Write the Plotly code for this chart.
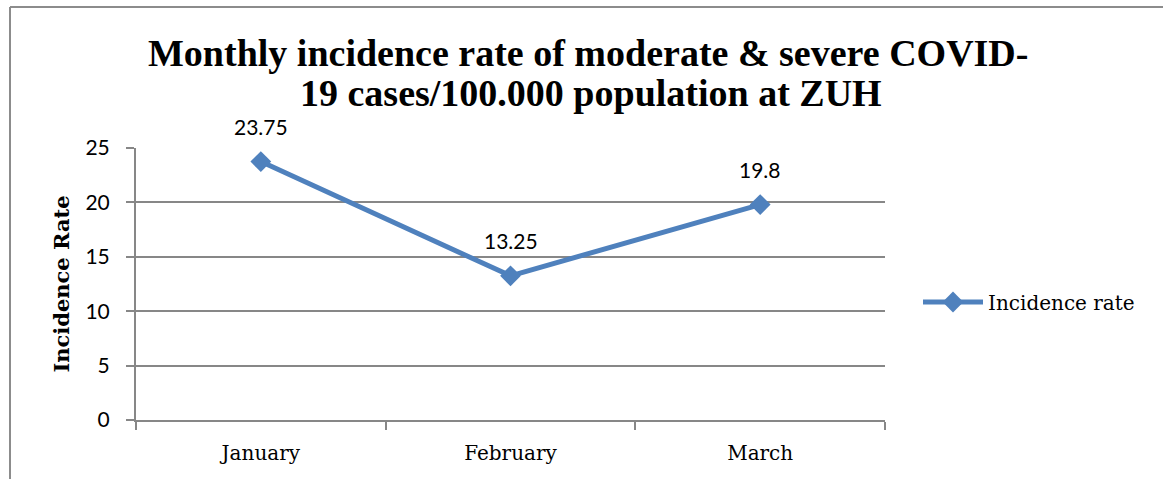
import plotly.graph_objects as go

months = ["January", "February", "March"]
incidence = [23.75, 13.25, 19.8]
label_text = ["23.75", "13.25", "19.8"]
series_name = "Incidence rate"
y_ticks = [0, 5, 10, 15, 20, 25]
title_lines = ["Monthly incidence rate of moderate &amp; severe COVID-",
               "19 cases/100.000 population at ZUH"]

W, H = 1163, 479
L, R, T, B = 136, 278, 148, 59
pw = W - L - R
ph = H - T - B

def px_x(x):
    return (x - L) / pw

def px_y(y):
    return (H - B - y) / ph

blue = "#4F81BD"
grid = "#878787"

fig = go.Figure()
fig.add_trace(go.Scatter(
    x=months, y=incidence, mode="lines+markers", name=series_name,
    line=dict(color=blue, width=5),
    marker=dict(symbol="diamond", size=16, color=blue),
))

for m, v, t in zip(months, incidence, label_text):
    fig.add_annotation(x=m, y=v, text=t, showarrow=False, yshift=35,
                       font=dict(family="Lato", size=21, color="#000000"))

# title, two centred lines
for line, (cx, cy) in zip(title_lines, [(588, 53), (591, 93)]):
    fig.add_annotation(xref="paper", yref="paper", x=px_x(cx), y=px_y(cy),
                       xanchor="center", yanchor="middle", showarrow=False,
                       text="<b>" + line + "</b>",
                       font=dict(family="Liberation Serif", size=38, color="#000000"))

fig.update_layout(
    width=W, height=H,
    margin=dict(l=L, r=R, t=T, b=B),
    paper_bgcolor="white", plot_bgcolor="white",
    showlegend=True,
    legend=dict(x=px_x(918), y=px_y(302), xanchor="left", yanchor="middle",
                font=dict(family="DejaVu Serif", size=20, color="#000000"),
                bgcolor="rgba(0,0,0,0)", itemwidth=60),
    xaxis=dict(
        type="category", range=[-0.5, 2.5], tickson="boundaries",
        showline=True, linecolor=grid, linewidth=2,
        ticks="outside", ticklen=8, tickcolor=grid, tickwidth=2,
        showgrid=False, zeroline=False, ticklabelstandoff=14,
        tickfont=dict(family="DejaVu Serif", size=20, color="#000000"),
    ),
    yaxis=dict(
        range=[0, 25], tickvals=y_ticks, ticktext=[str(v) for v in y_ticks],
        showline=True, linecolor=grid, linewidth=2,
        ticks="outside", ticklen=8, tickcolor=grid, tickwidth=2,
        showgrid=True, gridcolor=grid, gridwidth=1.5, zeroline=False,
        ticklabelstandoff=12,
        tickfont=dict(family="Lato", size=21, color="#000000"),
        title=dict(text="Incidence Rate", standoff=10,
                   font=dict(family="DejaVu Serif", size=21, color="#000000", weight="bold")),
    ),
)

# outer chart frame (top and left edges)
fig.add_shape(type="line", xref="paper", yref="paper",
              x0=px_x(10), x1=px_x(W + 5), y0=px_y(7), y1=px_y(7),
              line=dict(color="#8c8c8c", width=2))
fig.add_shape(type="line", xref="paper", yref="paper",
              x0=px_x(10), x1=px_x(10), y0=px_y(7), y1=px_y(H + 5),
              line=dict(color="#8c8c8c", width=2))

fig.write_html("out.html", config={"displayModeBar": False},
               post_script="document.body.style.margin='0';document.body.style.overflow='hidden';")
